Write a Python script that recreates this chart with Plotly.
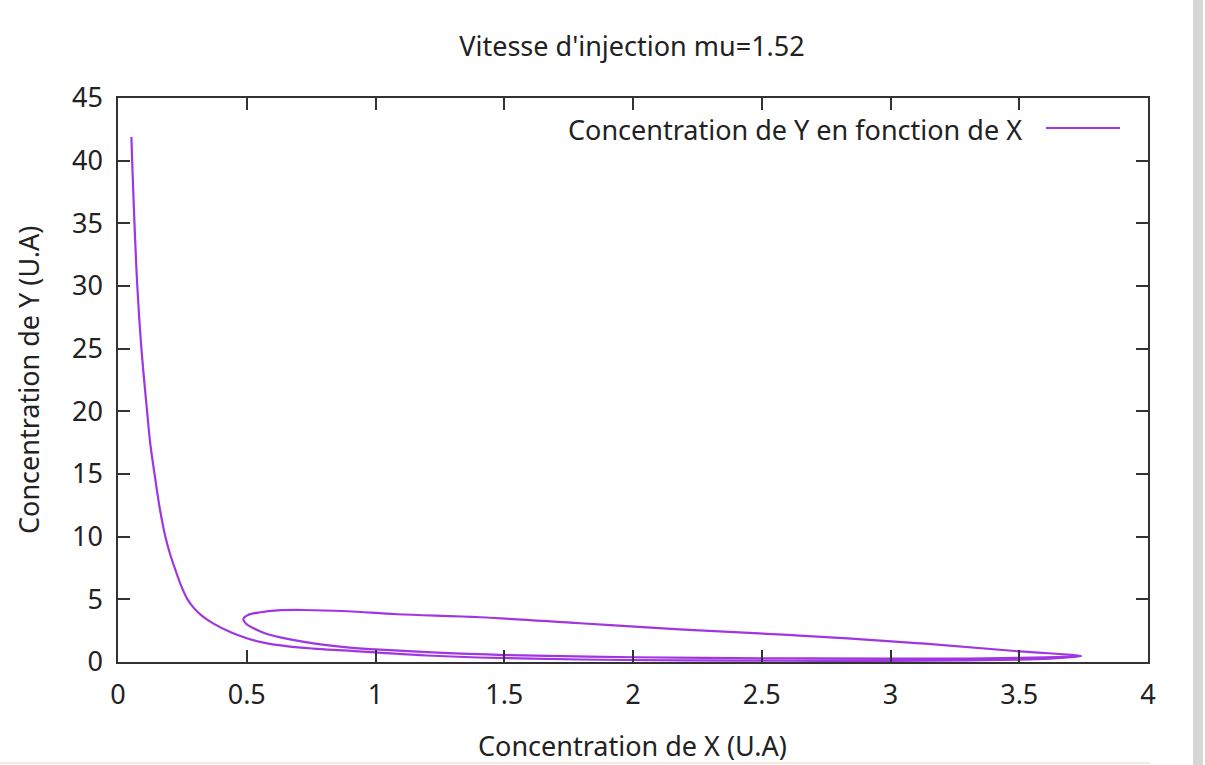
import plotly.graph_objects as go

# Trajectory in the (X, Y) phase plane, split in two passes
x_descent = [0.052, 0.055, 0.064, 0.075, 0.091, 0.113, 0.126, 0.142, 0.161, 0.184,
             0.204, 0.222, 0.245, 0.27, 0.295, 0.325, 0.371, 0.44, 0.50, 0.565,
             0.66, 0.759, 0.88, 1.0, 1.2, 1.4, 1.8, 2.2, 2.6, 3.0,
             3.3, 3.5, 3.62, 3.70, 3.74]
y_descent = [41.9, 40.0, 35.0, 30.0, 25.0, 20.0, 17.3, 15.0, 12.4, 10.0,
             8.5, 7.4, 6.1, 5.0, 4.3, 3.7, 3.06, 2.35, 1.9, 1.55,
             1.25, 1.07, 0.92, 0.77, 0.52, 0.36, 0.20, 0.13, 0.10, 0.09,
             0.12, 0.18, 0.27, 0.38, 0.48]

x_cycle = [3.5, 3.115, 2.63, 2.18, 1.795, 1.407, 1.085, 0.89, 0.72, 0.62,
           0.553, 0.505, 0.487, 0.495, 0.526, 0.57, 0.63, 0.759, 0.89, 1.0,
           1.2, 1.5, 2.0, 2.5, 3.0, 3.3, 3.5, 3.65, 3.74]
y_cycle = [0.85, 1.49, 2.13, 2.61, 3.09, 3.57, 3.81, 4.05, 4.15, 4.12,
           3.97, 3.75, 3.45, 3.10, 2.69, 2.30, 1.97, 1.49, 1.17, 1.0,
           0.78, 0.55, 0.38, 0.30, 0.27, 0.28, 0.33, 0.40, 0.48]

x_ticks = [0, 0.5, 1, 1.5, 2, 2.5, 3, 3.5, 4]
x_tick_text = ["0", "0.5", "1", "1.5", "2", "2.5", "3", "3.5", "4"]
y_ticks = [0, 5, 10, 15, 20, 25, 30, 35, 40, 45]

title_text = "Vitesse d'injection mu=1.52"
legend_text = "Concentration de Y en fonction de X"
x_title = "Concentration de X (U.A)"
y_title = "Concentration de Y (U.A)"

LINE_COLOR = "#a035e2"
TEXT_COLOR = "#222222"
FONT = "Noto Sans"
FS = 27
W, H = 1205, 765
L, R, T, B = 118, 57, 98, 103
PW, PH = W - L - R, H - T - B


def px(xp):
    return (xp - L) / PW


def py(yp):
    return (H - B - yp) / PH


fig = go.Figure()
fig.add_trace(go.Scatter(
    x=x_descent + x_cycle, y=y_descent + y_cycle,
    mode="lines", line=dict(color=LINE_COLOR, width=2.2, shape="spline", smoothing=1.0),
    showlegend=False, hoverinfo="skip",
))

axis_common = dict(
    showline=True, linecolor="#333333", linewidth=1.5, mirror="ticks",
    ticks="inside", ticklen=12, tickwidth=1.5, tickcolor="#333333",
    showgrid=False, zeroline=False,
    tickfont=dict(family=FONT, size=FS, color=TEXT_COLOR),
)

fig.update_xaxes(range=[0, 4], tickvals=x_ticks, ticktext=x_tick_text,
                 ticklabelstandoff=8, **axis_common)
fig.update_yaxes(range=[0, 45], tickvals=y_ticks, ticklabelstandoff=8, **axis_common)

text_font = dict(family=FONT, size=FS, color=TEXT_COLOR)
annotations = [
    dict(text=x_title, x=px(632), y=py(745), xref="paper", yref="paper",
         xanchor="center", yanchor="middle", showarrow=False, font=text_font),
    dict(text=y_title, x=px(28), y=py(380), xref="paper", yref="paper", textangle=-90,
         xanchor="center", yanchor="middle", showarrow=False, font=text_font),
    dict(text=legend_text, x=px(1024), y=py(130), xref="paper", yref="paper",
         xanchor="right", yanchor="middle", showarrow=False, font=text_font),
]

shapes = [
    # legend sample line
    dict(type="line", xref="paper", yref="paper", x0=px(1046), x1=px(1120),
         y0=py(128), y1=py(128), line=dict(color=LINE_COLOR, width=2.2)),
    # window scrollbar strip on the right edge
    dict(type="rect", xref="paper", yref="paper", x0=px(1193), x1=px(1203),
         y0=py(765), y1=py(0), line=dict(width=0), fillcolor="#d6d6d6", layer="below"),
    # faint rule along the bottom edge
    dict(type="line", xref="paper", yref="paper", x0=px(0), x1=px(1150),
         y0=py(763), y1=py(763), line=dict(color="#f6e2d6", width=1.5)),
]

fig.update_layout(
    width=W, height=H,
    margin=dict(l=L, r=R, t=T, b=B),
    paper_bgcolor="white", plot_bgcolor="white",
    title=dict(text=title_text, x=px(632), xref="paper", xanchor="center",
               y=1 - 47 / H, yref="container", yanchor="middle", font=text_font),
    annotations=annotations, shapes=shapes,
)

fig.write_html("out.html")
